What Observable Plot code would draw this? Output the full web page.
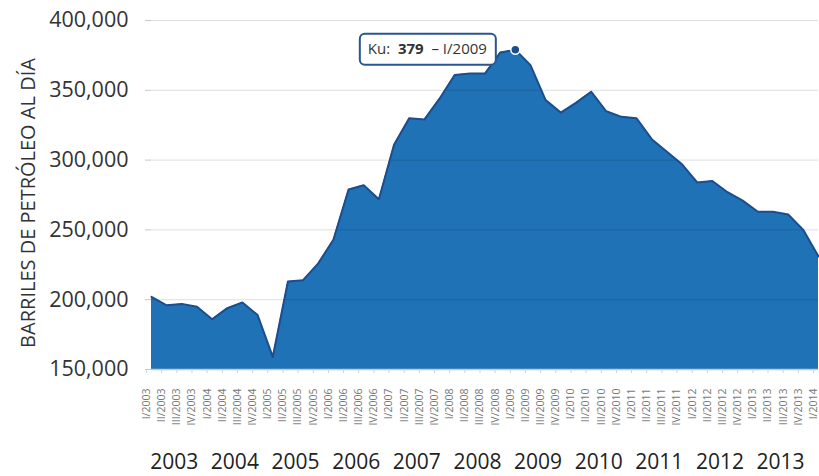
<!DOCTYPE html>
<html><head><meta charset="utf-8">
<script src="https://cdn.jsdelivr.net/npm/d3@7"></script>
<script src="https://cdn.jsdelivr.net/npm/@observablehq/plot@0.6"></script>
<style>
body{margin:0;background:#fff;}
#chart svg{display:block;}
</style></head><body><div id="chart"></div>
<script>
const quarters = [
  "I/2003","II/2003","III/2003","IV/2003",
  "I/2004","II/2004","III/2004","IV/2004",
  "I/2005","II/2005","III/2005","IV/2005",
  "I/2006","II/2006","III/2006","IV/2006",
  "I/2007","II/2007","III/2007","IV/2007",
  "I/2008","II/2008","III/2008","IV/2008",
  "I/2009","II/2009","III/2009","IV/2009",
  "I/2010","II/2010","III/2010","IV/2010",
  "I/2011","II/2011","III/2011","IV/2011",
  "I/2012","II/2012","III/2012","IV/2012",
  "I/2013","II/2013","III/2013","IV/2013",
  "I/2014"
];
const production = [
  202000,196000,197000,195000,
  186000,194000,198000,189000,
  159000,213000,214000,226000,
  243000,279000,282000,272000,
  311000,330000,329000,344000,
  361000,362000,362000,377000,
  379000,368000,343000,334000,
  341000,349000,335000,331000,
  330000,315000,306000,297000,
  284000,285000,277000,271000,
  263000,263000,261000,250000,
  231000
];
const years = ["2003","2004","2005","2006","2007","2008","2009","2010","2011","2012","2013"];
const yTicks = [150000,200000,250000,300000,350000,400000];
const yTitle = "BARRILES DE PETRÓLEO AL DÍA";
const seriesName = "Ku";

const data = production.map((v, i) => ({i, q: quarters[i], v}));
const yearCenters = years.map(y => d3.mean(quarters.map((q, i) => q.endsWith("/" + y) ? i : null).filter(d => d !== null)));
const peakIdx = d3.maxIndex(production);
const peak = [data[peakIdx]];

const chart = Plot.plot({
  width: 819,
  height: 476,
  marginLeft: 151,
  marginRight: 1,
  marginTop: 20,
  marginBottom: 107,
  style: {fontFamily: "'Open Sans', sans-serif", background: "#fff"},
  x: {domain: [0, quarters.length - 1]},
  y: {domain: [150000, 400000]},
  marks: [
    Plot.areaY(data, {x: "i", y1: 150000, y2: "v", fill: "#1f72b6"}),
    Plot.gridY(yTicks, {stroke: "#000", strokeOpacity: 0.13}),
    Plot.lineY(data, {x: "i", y: "v", stroke: "#1c4d8c", strokeWidth: 2}),
    Plot.ruleY([150000], {stroke: "#b9cadb", strokeWidth: 1.5}),
    Plot.axisY(yTicks, {tickFormat: d3.format(","), tickSize: 6, tickPadding: 17, fontSize: 21.5, fill: "#333", stroke: "#c8c8c8", label: null}),
    Plot.axisX(d3.range(quarters.length), {tickFormat: i => quarters[i], tickRotate: -90, tickSize: 4, tickPadding: 15, fontSize: 10.5, fill: "#777", stroke: "#c8d4e0", dx: -5, label: null}),
    Plot.axisX(yearCenters, {tickFormat: (d, k) => years[k], tickSize: 0, tickPadding: 85, fontSize: 21, fill: "#222", label: null}),
    Plot.text([yTitle], {frameAnchor: "left", textAnchor: "middle", rotate: -90, dx: -123, dy: 8, fontSize: 20, fill: "#333"}),
    Plot.dot(peak, {x: "i", y: "v", r: 4.5, fill: "#1c4d8c", stroke: "#fff", strokeWidth: 1.5})
  ]
});

// tooltip anchored to the peak point through the chart's scales
const xs = chart.scale("x"), ys = chart.scale("y");
const px = xs.apply(peakIdx), py = ys.apply(production[peakIdx]);
const bw = 136, bh = 31, gap = 19;
const g = d3.select(chart).append("g");
g.append("rect")
  .attr("x", px - gap - bw).attr("y", py - bh / 2)
  .attr("width", bw).attr("height", bh).attr("rx", 5)
  .attr("fill", "#fff").attr("stroke", "#2a5592").attr("stroke-width", 2);
const t = g.append("text")
  .attr("x", px - gap - bw + 8).attr("y", py + 5)
  .attr("text-anchor", "start")
  .attr("font-size", 15).attr("fill", "#333")
  .attr("font-family", "'Open Sans', sans-serif");
t.append("tspan").text(seriesName + ":  ");
t.append("tspan").attr("font-weight", "bold").text(String(production[peakIdx] / 1000));
t.append("tspan").text("  – " + quarters[peakIdx]);
document.getElementById("chart").appendChild(chart);
</script></body></html>
